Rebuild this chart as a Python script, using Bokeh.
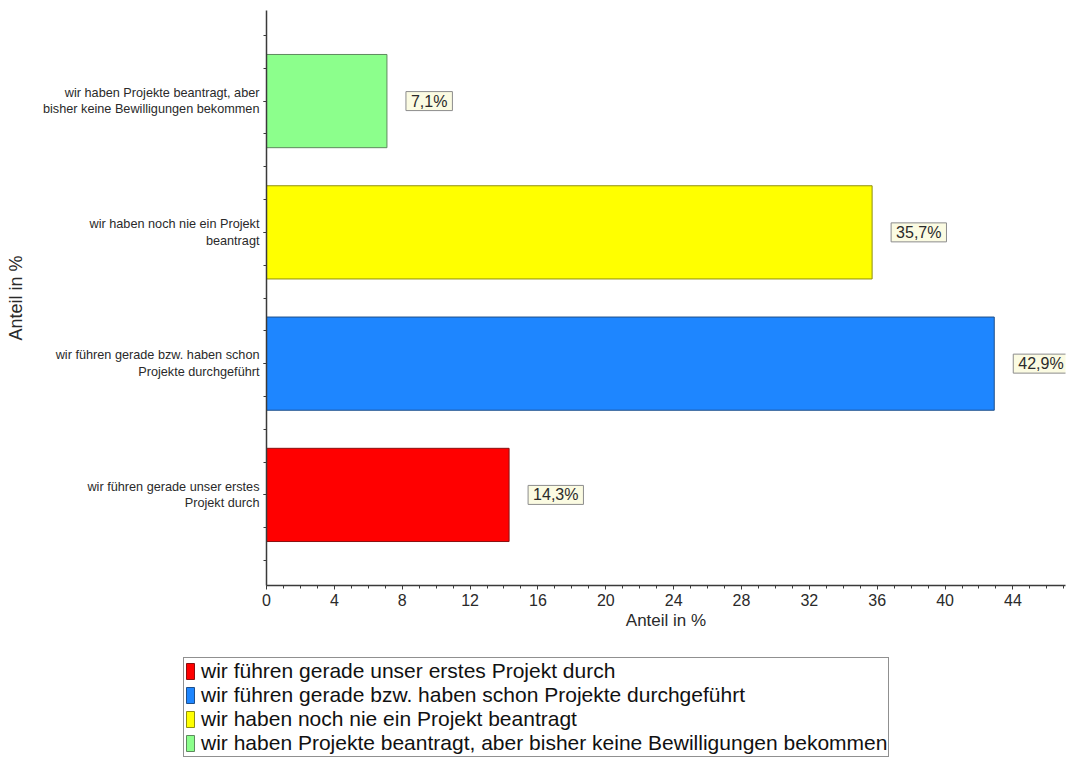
from bokeh.plotting import figure
from bokeh.models import (ColumnDataSource, Range1d, FixedTicker, SingleIntervalTicker,
                          Legend, LegendItem)
from bokeh.core.properties import value
from bokeh.embed import file_html
from bokeh.resources import INLINE

# Survey answers (bottom to top) and their share in percent
categories = [
    "wir führen gerade unser erstes Projekt durch",
    "wir führen gerade bzw. haben schon Projekte durchgeführt",
    "wir haben noch nie ein Projekt beantragt",
    "wir haben Projekte beantragt, aber bisher keine Bewilligungen bekommen",
]
axis_labels = [
    "wir führen gerade unser erstes\nProjekt durch",
    "wir führen gerade bzw. haben schon\nProjekte durchgeführt",
    "wir haben noch nie ein Projekt\nbeantragt",
    "wir haben Projekte beantragt, aber\nbisher keine Bewilligungen bekommen",
]
shares = [14.3, 42.9, 35.7, 7.1]
fill_colors = ["#FF0000", "#1E86FF", "#FFFF00", "#8CFF8C"]
edge_colors = ["#8A1010", "#1F4F8A", "#8F8F10", "#5E8A5E"]

FONT = "Liberation Sans"
TEXT = "#2A2A2A"

pos = list(range(len(categories)))
src = ColumnDataSource(dict(
    y=pos,
    share=shares,
    fill=fill_colors,
    edge=edge_colors,
    label=[f"{v:.1f}".replace(".", ",") + "%" for v in shares],
))

p = figure(width=1073, height=640, output_backend="svg", toolbar_location=None,
           x_range=Range1d(0, 47.1), y_range=Range1d(-0.69, len(pos) - 1 + 0.69),
           min_border_left=266, min_border_right=8, min_border_top=10,
           min_border_bottom=55)
p.outline_line_color = None
p.xgrid.visible = False
p.ygrid.visible = False
p.background_fill_color = "white"
p.border_fill_color = "white"

bars = p.hbar(y="y", right="share", left=0, height=0.71, source=src,
              fill_color="fill", line_color="edge", line_width=1)

# value boxes beside each bar
p.text(x="share", y="y", text="label", source=src,
       x_offset=19, text_align="left", text_baseline="middle",
       text_font=value(FONT), text_font_size="16px", text_color=TEXT,
       background_fill_color="#FBFBE2", border_line_color="#8C8C8C",
       border_line_width=1, padding=dict(left=5, right=5, top=1, bottom=1))

# x axis
xa = p.xaxis[0]
xa.ticker = SingleIntervalTicker(interval=4, num_minor_ticks=4)
xa.axis_label = "Anteil in %"
xa.axis_label_text_font = FONT
xa.axis_label_text_font_size = "17px"
xa.axis_label_text_font_style = "normal"
xa.axis_label_text_color = TEXT
xa.axis_label_standoff = 2
xa.major_label_text_font = FONT
xa.major_label_text_font_size = "16px"
xa.major_label_text_color = TEXT
xa.major_label_standoff = 4
xa.axis_line_color = "#3A3A3A"
xa.axis_line_width = 1.5
xa.major_tick_line_color = "#3A3A3A"
xa.minor_tick_line_color = "#3A3A3A"
xa.major_tick_in = 0
xa.major_tick_out = 4
xa.minor_tick_in = 0
xa.minor_tick_out = 3

# y axis with the answer texts as tick labels
ya = p.yaxis[0]
quarter = [i * 0.25 - 0.5 for i in range(4 * len(pos) + 3)]
ya.ticker = FixedTicker(ticks=pos, minor_ticks=quarter)
ya.major_label_overrides = {i: t for i, t in zip(pos, axis_labels)}
ya.major_label_text_font = FONT
ya.major_label_text_font_size = "12.7px"
ya.major_label_text_color = TEXT
ya.major_label_standoff = 4
ya.axis_label = "Anteil in %"
ya.axis_label_text_font = FONT
ya.axis_label_text_font_size = "18px"
ya.axis_label_text_font_style = "normal"
ya.axis_label_text_color = TEXT
ya.axis_label_standoff = 14
ya.axis_line_color = "#3A3A3A"
ya.axis_line_width = 1.5
ya.major_tick_line_color = "#3A3A3A"
ya.minor_tick_line_color = "#3A3A3A"
ya.major_tick_in = 0
ya.major_tick_out = 3
ya.minor_tick_in = 0
ya.minor_tick_out = 3

# legend strip under the chart
lg = figure(width=1073, height=125, output_backend="svg", toolbar_location=None,
            x_range=Range1d(0, 1), y_range=Range1d(0, 1),
            min_border=0, min_border_left=0, min_border_right=0,
            min_border_top=0, min_border_bottom=0)
lg.axis.visible = False
lg.grid.visible = False
lg.outline_line_color = None
lg.border_fill_color = "white"
lg_bars = lg.hbar(y="y", right="share", left=0, height=0.71, source=src,
                  fill_color="fill", line_color="edge", line_width=1, visible=False)

legend = Legend(
    items=[LegendItem(label=c, renderers=[lg_bars], index=i) for i, c in enumerate(categories)],
    location=(183, 8),
    orientation="vertical",
    label_text_font=FONT, label_text_font_size="21px", label_text_color="#111111",
    glyph_width=10, glyph_height=20, label_height=20, label_standoff=6,
    spacing=0, padding=1, margin=0,
    border_line_color="#222222", border_line_width=1.5,
    background_fill_color="white",
    inactive_fill_alpha=0,
)
lg.add_layout(legend)

open("out.html", "w").write(file_html([p, lg], INLINE))
